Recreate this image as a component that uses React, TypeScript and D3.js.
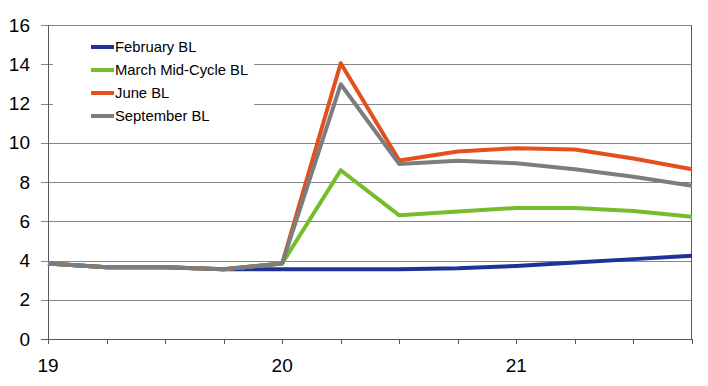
import React from "react";
import * as d3 from "d3";

const WIDTH = 708;
const HEIGHT = 386;
const MARGIN = { top: 25, right: 16, bottom: 47, left: 48 };

// quarters 19Q1 .. 21Q4
const QUARTERS = ["19Q1", "19Q2", "19Q3", "19Q4", "20Q1", "20Q2", "20Q3", "20Q4", "21Q1", "21Q2", "21Q3", "21Q4"];
const YEAR_LABELS = [
  { label: "19", idx: 0 },
  { label: "20", idx: 4 },
  { label: "21", idx: 8 },
];
const Y_TICKS = [0, 2, 4, 6, 8, 10, 12, 14, 16];

const februaryBL = [3.85, 3.65, 3.65, 3.55, 3.55, 3.55, 3.55, 3.6, 3.72, 3.9, 4.07, 4.24];
const marchBL = [3.85, 3.65, 3.65, 3.55, 3.85, 8.6, 6.3, 6.5, 6.68, 6.68, 6.52, 6.23];
const juneBL = [3.85, 3.65, 3.65, 3.55, 3.85, 14.05, 9.1, 9.55, 9.72, 9.66, 9.2, 8.65];
const septemberBL = [3.85, 3.65, 3.65, 3.55, 3.85, 12.98, 8.92, 9.08, 8.95, 8.65, 8.27, 7.81];

const SERIES = [
  { name: "February BL", values: februaryBL, color: "#1c3497" },
  { name: "March Mid-Cycle BL", values: marchBL, color: "#76bd2d" },
  { name: "June BL", values: juneBL, color: "#e4501b" },
  { name: "September BL", values: septemberBL, color: "#7b7d80" },
];

export default function App() {
  const x = d3
    .scaleLinear()
    .domain([0, QUARTERS.length - 1])
    .range([MARGIN.left, WIDTH - MARGIN.right]);
  const y = d3
    .scaleLinear()
    .domain([0, 16])
    .range([HEIGHT - MARGIN.bottom, MARGIN.top]);

  const line = d3
    .line<number>()
    .x((_, i) => x(i))
    .y((d) => y(d));

  const x0 = x(0);
  const x1 = x(QUARTERS.length - 1);
  const yBase = y(0);

  return (
    <svg
      width={WIDTH}
      height={HEIGHT}
      style={{ position: "absolute", left: 0, top: 0, background: "#fff" }}
      fontFamily="'Liberation Sans', Arial, sans-serif"
    >
      {/* gridlines + y ticks */}
      {Y_TICKS.map((t) => (
        <g key={t}>
          <line
            x1={x0 - 7}
            x2={x1}
            y1={Math.round(y(t)) + 0.5}
            y2={Math.round(y(t)) + 0.5}
            stroke={t === 0 ? "#595959" : "#878787"}
            strokeWidth={1}
          />
          <text
            x={30}
            y={y(t)}
            dy="0.35em"
            textAnchor="end"
            fontSize={19}
            fill="#000"
          >
            {t}
          </text>
        </g>
      ))}

      {/* axes frame */}
      <line x1={x0 + 0.5} x2={x0 + 0.5} y1={y(16)} y2={yBase} stroke="#595959" />
      <line x1={x1 - 0.5} x2={x1 - 0.5} y1={y(16)} y2={yBase} stroke="#595959" />

      {/* x ticks */}
      {QUARTERS.map((q, i) => (
        <line
          key={q}
          x1={Math.round(x(i)) + 0.5}
          x2={Math.round(x(i)) + 0.5}
          y1={yBase}
          y2={yBase + 5}
          stroke="#595959"
        />
      ))}
      {YEAR_LABELS.map((d) => (
        <text key={d.label} x={x(d.idx)} y={372} textAnchor="middle" fontSize={19} fill="#000">
          {d.label}
        </text>
      ))}

      {/* legend background */}
      <rect x={53} y={31} width={201} height={94} fill="#fff" />

      {/* series */}
      {SERIES.map((s) => (
        <path
          key={s.name}
          d={line(s.values) || ""}
          fill="none"
          stroke={s.color}
          strokeWidth={4}
          strokeLinejoin="round"
        />
      ))}

      {/* legend */}
      {SERIES.map((s, i) => {
        const ly = 47 + i * 23;
        return (
          <g key={s.name}>
            <line x1={91} x2={114} y1={ly} y2={ly} stroke={s.color} strokeWidth={4} />
            <text x={115} y={ly} dy="0.35em" fontSize={14.8} fill="#000">
              {s.name}
            </text>
          </g>
        );
      })}
    </svg>
  );
}
